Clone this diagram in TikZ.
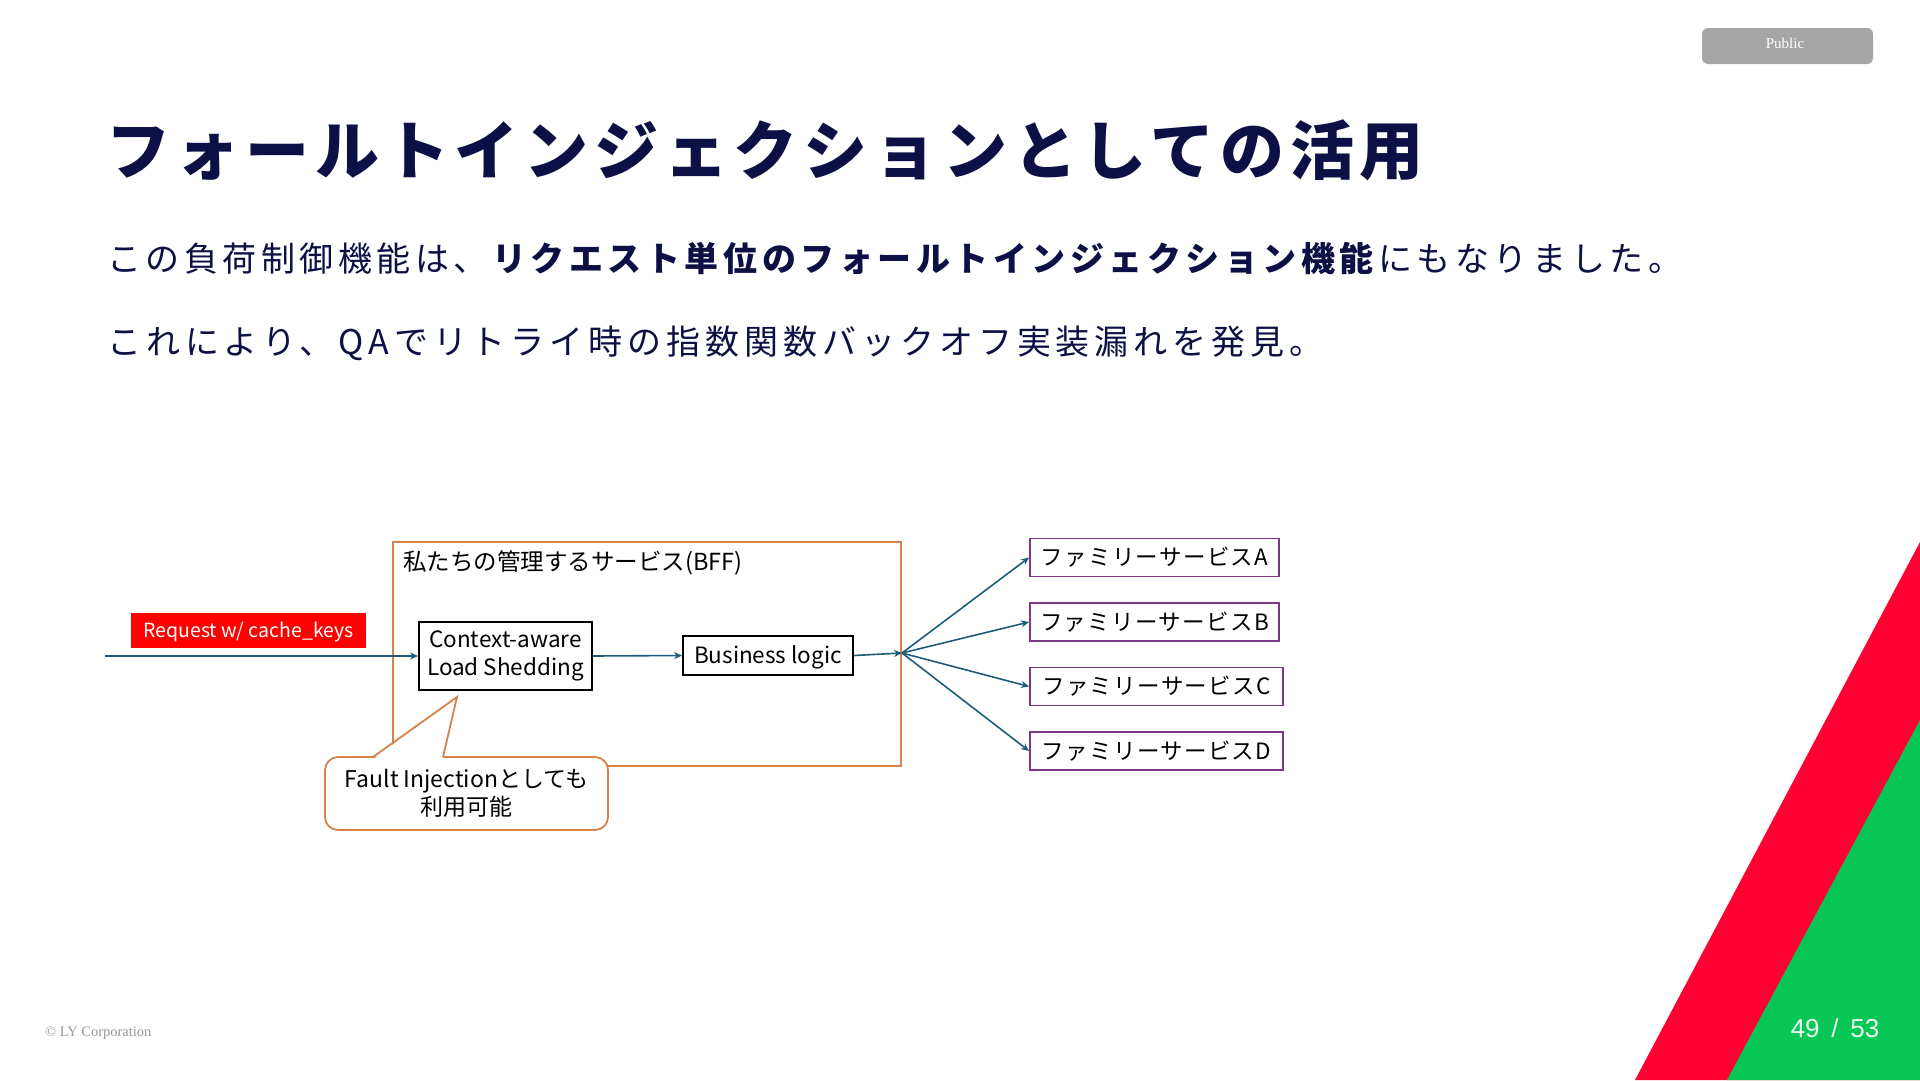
\documentclass[tikz,border=0pt]{standalone}
\usepackage{fontspec}
\setmainfont{Liberation Serif}
\newfontfamily\jp{Noto Sans CJK JP}
\newfontfamily\jptitle{Noto Sans CJK JP}[LetterSpace=9]
\newfontfamily\jpsp{Noto Sans CJK JP}[LetterSpace=13.3]
\newfontfamily\jpsptwo{Noto Sans CJK JP}[LetterSpace=14.5]
\newfontfamily\jpfam{Noto Sans CJK JP}[LetterSpace=6]
\newfontfamily\lsans{Liberation Sans}
\newfontfamily\lserif{Liberation Serif}
\usetikzlibrary{arrows.meta}
\definecolor{navy}{RGB}{12,16,68}
\definecolor{flowc}{RGB}{31,92,122}
\definecolor{bffc}{RGB}{214,130,74}
\definecolor{famc}{RGB}{125,55,135}
\definecolor{lyred}{RGB}{255,0,51}
\definecolor{lygreen}{RGB}{6,199,85}
\definecolor{badge}{RGB}{166,166,166}
\tikzset{
  arr/.style={draw=flowc, line width=1.6pt, -{Stealth[length=8pt,width=7pt]}},
  blackbox/.style={draw=black, line width=1.8pt, fill=white, inner sep=0pt, align=center, font=\jp\fontsize{22.5}{28}\selectfont},
  fambox/.style={draw=famc, line width=1.8pt, inner sep=0pt, font=\jpfam\fontsize{22.5}{26}\selectfont, minimum height=38pt},
  txt/.style={inner sep=0pt, anchor=west},
}
\begin{document}
\begin{tikzpicture}[x=1pt,y=-1pt]
\useasboundingbox (0,0) rectangle (1920,1080);
\fill[white] (0,0) rectangle (1920,1080);
% decorative stripes
\fill[lyred] (1635,1080) -- (1920,542) -- (1920,1080) -- cycle;
\fill[lygreen] (1727,1080) -- (1920,720) -- (1920,1080) -- cycle;
% badge
\node[fill=badge, rounded corners=6pt, minimum width=171pt, minimum height=36pt, inner sep=0pt] (badge) at (1787.5,46) {};
\node[inner sep=0pt, text=white, font=\lserif\fontsize{15}{18}\selectfont] (badgetext) at (1785,43.5) {Public};
% title
\node[txt, text=navy, font=\jptitle\bfseries\fontsize{64}{70}\selectfont] (title) at (106,150)
  {フォールトインジェクションとしての活用};
% body
\node[txt, text=navy, font=\jpsp\fontsize{34}{40}\selectfont] (l1) at (107,258)
  {この負荷制御機能は、\textbf{リクエスト単位のフォールトインジェクション機能}にもなりました。};
\node[txt, text=navy, font=\jpsptwo\fontsize{34}{40}\selectfont] (l2) at (107,343)
  {これにより、QAでリトライ時の指数関数バックオフ実装漏れを発見。};
% BFF frame
\draw[bffc, line width=1.8pt] (393,542) rectangle (901,766);
\node[txt, font=\jp\fontsize{23.5}{28}\selectfont] (bfflabel) at (403,563) {私たちの管理するサービス(BFF)};
% request label
\node[fill=red, text=white, inner sep=0pt, minimum width=235pt, minimum height=35pt,
      text height=18pt, text depth=4pt,
      font=\jp\fontsize{19.5}{24}\selectfont] (req) at (248.5,630.5) {Request w/ cache\_keys};
% boxes
\node[blackbox, minimum width=173pt, minimum height=68pt] (ca) at (505.5,656)
  {Context-aware\\Load Shedding};
\node[blackbox, minimum width=170pt, minimum height=39pt, text height=20pt, text depth=4pt] (bl) at (768,655.5) {Business logic};
\node[fambox, minimum width=249pt] (fa) at (1154.5,557.5) {ファミリーサービスA};
\node[fambox, minimum width=249pt] (fb) at (1154.5,622) {ファミリーサービスB};
\node[fambox, minimum width=253pt] (fc) at (1156.5,686.5) {ファミリーサービスC};
\node[fambox, minimum width=253pt] (fd) at (1156.5,751) {ファミリーサービスD};
% connectors
\coordinate (in) at (105,656);
\coordinate (fan) at (902,653);
\draw[arr] (in) -- (ca.west);
\draw[arr] (ca.east) -- (bl.west);
\draw[arr] (bl.east) -- (fan);
\draw[arr] (fan) -- (fa.west);
\draw[arr] (fan) -- (fb.west);
\draw[arr] (fan) -- (fc.west);
\draw[arr] (fan) -- (fd.west);
% callout
\node[draw=bffc, line width=1.8pt, fill=white, rounded corners=13pt, minimum width=283pt, minimum height=73pt,
      inner sep=0pt, align=center, font=\jp\fontsize{23}{28.5}\selectfont] (callout) at (466.5,793.5)
  {Fault Injectionとしても\\利用可能};
\coordinate (tip) at (457,697);
\fill[white] (373.5,758.8) -- (tip) -- (442.5,758.8) -- cycle;
\draw[bffc, line width=1.8pt, line join=miter] (373,757) -- (tip) -- (443,757);
% footer
\node[txt, text=black!40, font=\lserif\fontsize{14.5}{16}\selectfont] (copy) at (45,1033) {© LY Corporation};
\node[inner sep=0pt, text=white!92!lygreen, font=\lsans\fontsize{26}{28}\selectfont] (page) at (1835,1028) {49\hspace{0.45em}/\hspace{0.45em}53};
\end{tikzpicture}
\end{document}
